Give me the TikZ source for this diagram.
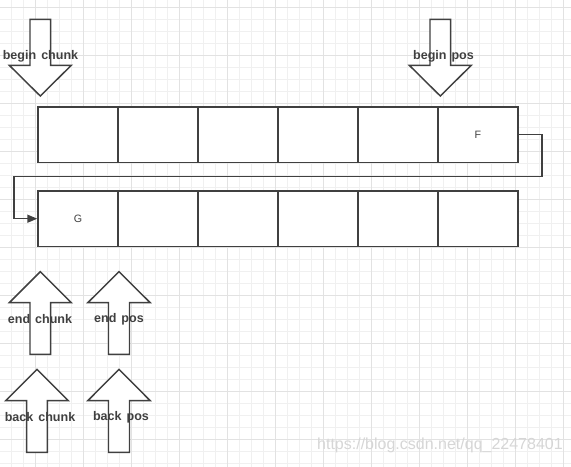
\documentclass[tikz,border=0pt]{standalone}
\usepackage{fontspec}
\setmainfont{Liberation Sans}
\usetikzlibrary{arrows.meta}
\definecolor{ln}{HTML}{404040}
\definecolor{gmin}{HTML}{F0F0F0}
\definecolor{gmaj}{HTML}{E2E2E2}
\definecolor{wm}{HTML}{D6D6D6}
\tikzset{
  cell/.style={draw=ln, line width=1.1pt, fill=white, minimum width=60pt, minimum height=41.5pt, inner sep=0pt, font=\fontsize{8}{9}\selectfont, text=ln},
  blk/.style={draw=ln, line width=1.1pt, fill=white, line join=miter},
  lbl/.style={font=\bfseries\fontsize{9.4}{10}\selectfont, text=ln, inner sep=0pt},
  conn/.style={draw=ln, line width=1.1pt, -{Triangle[length=7.5pt,width=6pt]}},
}
% down arrow: cx, ytail, yheadbase, ytip, shaft half width, head half width
\newcommand\dnArrow[6]{\path[blk] (#1-#5,#2) -- (#1+#5,#2) -- (#1+#5,#3) -- (#1+#6,#3) -- (#1,#4) -- (#1-#6,#3) -- (#1-#5,#3) -- cycle;}
\begin{document}
\begin{tikzpicture}[x=0.75pt,y=-0.75pt]
\useasboundingbox (0,0) rectangle (571,467);
\fill[white] (0,0) rectangle (571,467);
% grid
\foreach \i in {0,...,47} {\draw[gmin, line width=0.75pt] (11.5+12*\i,0) -- (11.5+12*\i,467);}
\foreach \i in {0,...,39} {\draw[gmin, line width=0.75pt] (0,7.5+12*\i) -- (571,7.5+12*\i);}
\foreach \i in {0,...,11} {\draw[gmaj, line width=0.75pt] (35.5+48*\i,0) -- (35.5+48*\i,467);}
\foreach \i in {0,...,9} {\draw[gmaj, line width=0.75pt] (0,7.5+48*\i) -- (571,7.5+48*\i);}
% watermark
\node[font=\fontsize{12}{14}\selectfont, text=wm, anchor=east, inner sep=0pt] (wmk) at (563,445) {https://blog.csdn.net/qq\_22478401};
% top row
\node[cell] (b1) at (78,134.7) {};
\node[cell] (b2) at (158,134.7) {};
\node[cell] (b3) at (238,134.7) {};
\node[cell] (b4) at (318,134.7) {};
\node[cell] (b5) at (398,134.7) {};
\node[cell] (b6) at (478,134.7) {F};
% second row
\node[cell] (c1) at (78,218.7) {G};
\node[cell] (c2) at (158,218.7) {};
\node[cell] (c3) at (238,218.7) {};
\node[cell] (c4) at (318,218.7) {};
\node[cell] (c5) at (398,218.7) {};
\node[cell] (c6) at (478,218.7) {};
% connector
\coordinate (r) at (542,176.7);
\coordinate (l) at (14,176.7);
\draw[conn] (b6.east) -| (r) -- (l) |- (c1.west);
% block arrows
\dnArrow{40.3}{19.3}{65.3}{96}{10.3}{31}
\dnArrow{440.3}{19.3}{65.3}{96}{10.3}{31}
\dnArrow{40.3}{354.3}{302.7}{271.7}{10.3}{31}
\dnArrow{119}{354.3}{302.7}{271.7}{10.5}{31.2}
\dnArrow{37}{452.3}{400.7}{369.3}{10.3}{31.3}
\dnArrow{119}{452.3}{400.7}{369.3}{10.5}{31.2}
% labels
\node[lbl] (t1) at (40.5,56) {begin\hspace{0.4em}chunk};
\node[lbl] (t2) at (443.5,56) {begin\hspace{0.4em}pos};
\node[lbl] (t3) at (40,319.3) {end\hspace{0.4em}chunk};
\node[lbl] (t4) at (119,319.3) {end\hspace{0.4em}pos};
\node[lbl] (t5) at (40,417.3) {back\hspace{0.4em}chunk};
\node[lbl] (t6) at (121,417.3) {back\hspace{0.4em}pos};
\end{tikzpicture}
\end{document}
